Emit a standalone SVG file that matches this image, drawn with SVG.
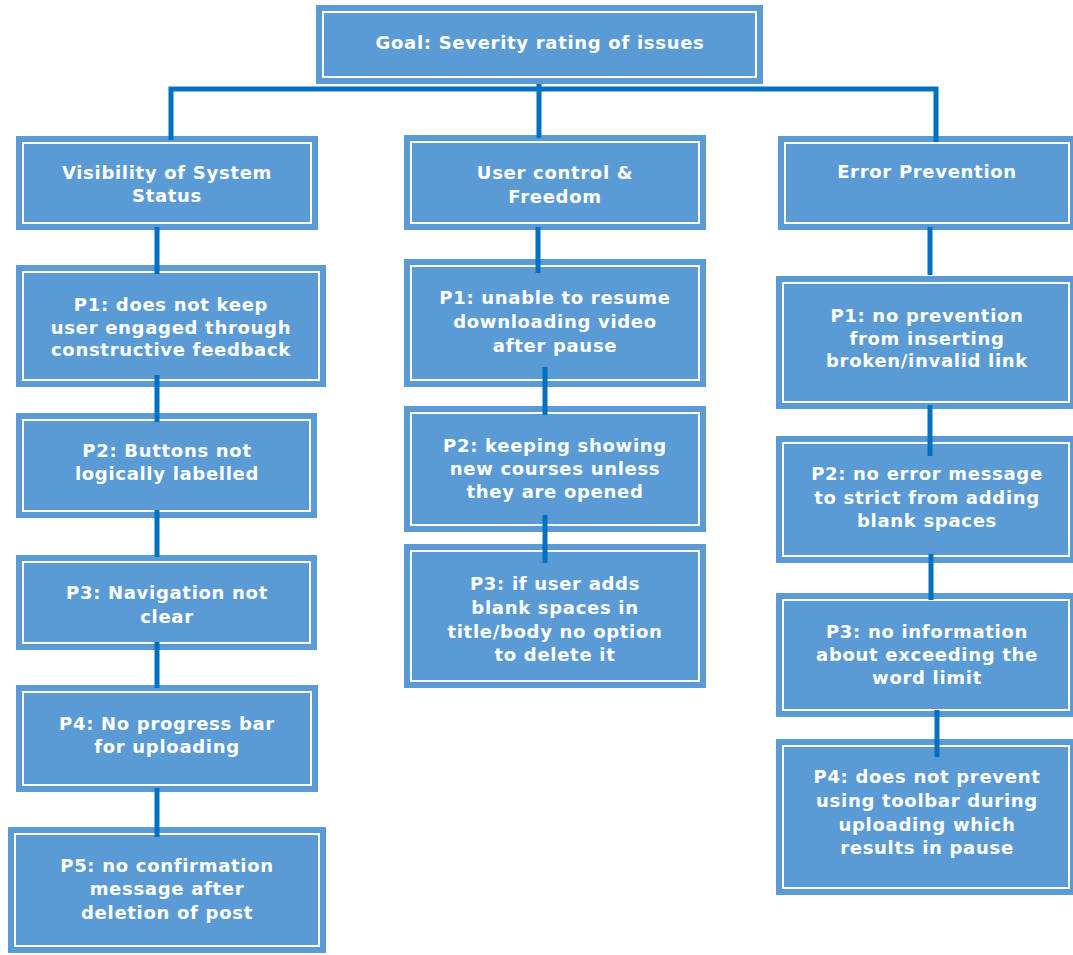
<svg xmlns="http://www.w3.org/2000/svg" width="1073" height="955" viewBox="0 0 1073 955">
<style>
.box{fill:#5b9bd5}
.in{fill:none;stroke:#ffffff;stroke-width:2}
.t{font-family:"DejaVu Sans","Verdana",sans-serif;font-weight:bold;font-size:18px;letter-spacing:0.7px;fill:#ffffff;text-anchor:middle}
.c{stroke:#0070c0;stroke-width:5;fill:none}
</style>
<rect width="1073" height="955" fill="#ffffff"/>
<g id="goal"><rect class="box" x="316" y="5" width="447" height="79"/><rect class="in" x="323" y="12" width="433" height="65"/><text class="t" x="540" y="49">Goal: Severity rating of issues</text></g>
<g id="vis"><rect class="box" x="16" y="136" width="302" height="94"/><rect class="in" x="23" y="143" width="288" height="80"/><text class="t" x="167" y="179">Visibility of System</text><text class="t" x="167" y="202">Status</text></g>
<g id="uc"><rect class="box" x="404" y="135" width="302" height="95"/><rect class="in" x="411" y="142" width="288" height="81"/><text class="t" x="555" y="179">User control &amp;</text><text class="t" x="555" y="203">Freedom</text></g>
<g id="ep"><rect class="box" x="778" y="136" width="298" height="94"/><rect class="in" x="785" y="143" width="284" height="80"/><text class="t" x="927" y="178">Error Prevention</text></g>
<g id="lp1"><rect class="box" x="16" y="265" width="310" height="122"/><rect class="in" x="23" y="272" width="296" height="108"/><text class="t" x="171" y="311">P1: does not keep</text><text class="t" x="171" y="334">user engaged through</text><text class="t" x="171" y="356">constructive feedback</text></g>
<g id="lp2"><rect class="box" x="16" y="413" width="301" height="105"/><rect class="in" x="23" y="420" width="287" height="91"/><text class="t" x="167" y="457">P2: Buttons not</text><text class="t" x="167" y="480">logically labelled</text></g>
<g id="lp3"><rect class="box" x="16" y="555" width="301" height="95"/><rect class="in" x="23" y="562" width="287" height="81"/><text class="t" x="167" y="599">P3: Navigation not</text><text class="t" x="167" y="623">clear</text></g>
<g id="lp4"><rect class="box" x="16" y="685" width="302" height="107"/><rect class="in" x="23" y="692" width="288" height="93"/><text class="t" x="167" y="730">P4: No progress bar</text><text class="t" x="167" y="753">for uploading</text></g>
<g id="lp5"><rect class="box" x="8" y="827" width="318" height="126"/><rect class="in" x="15" y="834" width="304" height="112"/><text class="t" x="167" y="872">P5: no confirmation</text><text class="t" x="167" y="895">message after</text><text class="t" x="167" y="919">deletion of post</text></g>
<g id="mp1"><rect class="box" x="404" y="259" width="302" height="128"/><rect class="in" x="411" y="266" width="288" height="114"/><text class="t" x="555" y="304">P1: unable to resume</text><text class="t" x="555" y="328">downloading video</text><text class="t" x="555" y="352">after pause</text></g>
<g id="mp2"><rect class="box" x="404" y="406" width="302" height="126"/><rect class="in" x="411" y="413" width="288" height="112"/><text class="t" x="555" y="452">P2: keeping showing</text><text class="t" x="555" y="475">new courses unless</text><text class="t" x="555" y="498">they are opened</text></g>
<g id="mp3"><rect class="box" x="404" y="544" width="302" height="144"/><rect class="in" x="411" y="551" width="288" height="130"/><text class="t" x="555" y="590">P3: if user adds</text><text class="t" x="555" y="614">blank spaces in</text><text class="t" x="555" y="638">title/body no option</text><text class="t" x="555" y="661">to delete it</text></g>
<g id="rp1"><rect class="box" x="776" y="276" width="300" height="133"/><rect class="in" x="783" y="283" width="286" height="119"/><text class="t" x="927" y="322">P1: no prevention</text><text class="t" x="927" y="345">from inserting</text><text class="t" x="927" y="367">broken/invalid link</text></g>
<g id="rp2"><rect class="box" x="776" y="436" width="300" height="127"/><rect class="in" x="783" y="443" width="286" height="113"/><text class="t" x="927" y="480">P2: no error message</text><text class="t" x="927" y="504">to strict from adding</text><text class="t" x="927" y="527">blank spaces</text></g>
<g id="rp3"><rect class="box" x="776" y="593" width="300" height="124"/><rect class="in" x="783" y="600" width="286" height="110"/><text class="t" x="927" y="638">P3: no information</text><text class="t" x="927" y="661">about exceeding the</text><text class="t" x="927" y="684">word limit</text></g>
<g id="rp4"><rect class="box" x="776" y="739" width="300" height="156"/><rect class="in" x="783" y="746" width="286" height="142"/><text class="t" x="927" y="783">P4: does not prevent</text><text class="t" x="927" y="807">using toolbar during</text><text class="t" x="927" y="831">uploading which</text><text class="t" x="927" y="854">results in pause</text></g>
<g id="connectors">
<path class="c" d="M171 140 V89 H936 V142 M539 84 V138"/>
<path class="c" d="M157 227 V274 M157 375 V422 M157 510 V557 M157 642 V688 M157 788 V837"/>
<path class="c" d="M538 227 V273 M545 367 V415 M545 515 V563"/>
<path class="c" d="M930 227 V275 M930 405 V456 M931 554 V600 M937 710 V757"/>
</g>
</svg>
